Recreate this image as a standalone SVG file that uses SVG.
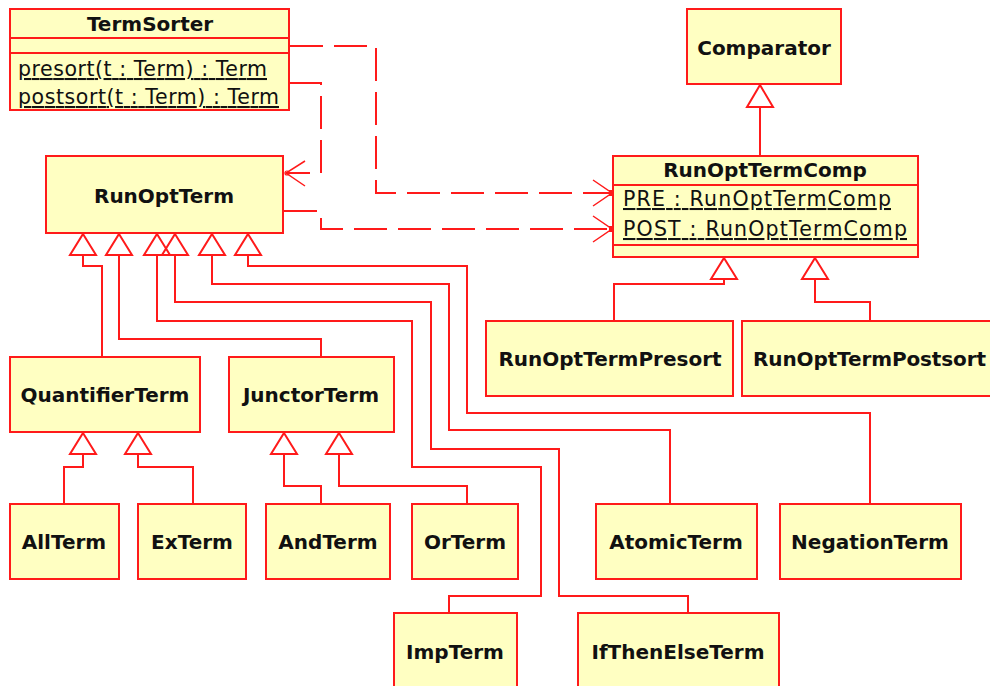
<svg xmlns="http://www.w3.org/2000/svg" width="990" height="686" viewBox="0 0 990 686">
  <style>
    .box { fill: #ffffc2; stroke: #ff1a1a; stroke-width: 2; }
    .sep { stroke: #ff1a1a; stroke-width: 2; }
    .name { font-family: "DejaVu Sans", "Liberation Sans", sans-serif; font-weight: bold; font-size: 20px; fill: #111; text-anchor: middle; }
    .member { font-family: "DejaVu Sans", "Liberation Sans", sans-serif; font-size: 20.5px; fill: #111; text-decoration: underline; }
    .wire { fill: none; stroke: #ff1a1a; stroke-width: 2; }
    .dash { fill: none; stroke: #ff1a1a; stroke-width: 2; stroke-dasharray: 33 11; }
    .tri { fill: none; stroke: #ff1a1a; stroke-width: 2; stroke-linejoin: miter; }
    .head { fill: none; stroke: #ff1a1a; stroke-width: 1.5; }
  </style>
  <rect width="990" height="686" fill="#ffffff"/>

  <!-- connectors -->
  <g id="connectors">
    <!-- dependencies -->
    <path class="dash" d="M290,46 H376 V193 H610"/>
    <path class="dash" d="M290,83 H321 V173 H287"/>
    <path class="dash" d="M284,211 H321 V229 H610"/>
    <path class="head" d="M305,161 L286,173 L305,186"/>
    <circle cx="287" cy="173" r="2" fill="none" stroke="#ff1a1a" stroke-width="1.2"/>
    <path class="head" d="M593,180 L612,193 L593,206"/>
    <rect x="609" y="190" width="5" height="6" fill="#ff1a1a"/>
    <path class="head" d="M593,216 L612,229 L593,242"/>
    <rect x="609" y="226" width="5" height="6" fill="#ff1a1a"/>

    <!-- RunOptTermComp extends Comparator -->
    <path class="tri" d="M760,85 L773,107 L747,107 Z"/>
    <path class="wire" d="M760,107 V156"/>

    <!-- RunOptTermPresort / RunOptTermPostsort extend RunOptTermComp -->
    <path class="tri" d="M724,258 L737,279 L711,279 Z"/>
    <path class="tri" d="M815,258 L828,279 L802,279 Z"/>
    <path class="wire" d="M724,279 V284 H614 V321"/>
    <path class="wire" d="M815,279 V302 H870 V321"/>

    <!-- subclasses of RunOptTerm -->
    <path class="tri" d="M83,234 L96,255 L70,255 Z"/>
    <path class="tri" d="M119,234 L132,255 L106,255 Z"/>
    <path class="tri" d="M157,234 L170,255 L144,255 Z"/>
    <path class="tri" d="M175,234 L188,255 L162,255 Z"/>
    <path class="tri" d="M212,234 L225,255 L199,255 Z"/>
    <path class="tri" d="M248,234 L261,255 L235,255 Z"/>
    <path class="wire" d="M83,255 V266 H102 V357"/>
    <path class="wire" d="M119,255 V339 H321 V357"/>
    <path class="wire" d="M157,255 V321 H412 V467 H541 V596 H449 V613"/>
    <path class="wire" d="M175,255 V302 H431 V449 H559 V596 H688 V613"/>
    <path class="wire" d="M212,255 V284 H449 V430 H670 V504"/>
    <path class="wire" d="M248,255 V266 H467 V413 H870 V504"/>

    <!-- subclasses of QuantifierTerm -->
    <path class="tri" d="M83,433 L96,454 L70,454 Z"/>
    <path class="tri" d="M138,433 L151,454 L125,454 Z"/>
    <path class="wire" d="M83,454 V467 H64 V504"/>
    <path class="wire" d="M138,454 V467 H193 V504"/>

    <!-- subclasses of JunctorTerm -->
    <path class="tri" d="M284,433 L297,454 L271,454 Z"/>
    <path class="tri" d="M339,433 L352,454 L326,454 Z"/>
    <path class="wire" d="M284,454 V486 H321 V504"/>
    <path class="wire" d="M339,454 V486 H467 V504"/>
  </g>

  <!-- classes -->
  <g id="TermSorter">
    <rect class="box" x="10" y="9" width="279" height="101"/>
    <line class="sep" x1="10" y1="38" x2="289" y2="38"/>
    <line class="sep" x1="10" y1="53" x2="289" y2="53"/>
    <text class="name" x="150" y="31">TermSorter</text>
    <text class="member" x="18" y="76" textLength="249" lengthAdjust="spacing">presort(t : Term) : Term</text>
    <text class="member" x="18" y="104" textLength="261" lengthAdjust="spacing">postsort(t : Term) : Term</text>
  </g>

  <g id="Comparator">
    <rect class="box" x="687" y="9" width="154" height="75"/>
    <text class="name" x="764" y="55">Comparator</text>
  </g>

  <g id="RunOptTerm">
    <rect class="box" x="46" y="156" width="237" height="77"/>
    <text class="name" x="164" y="203">RunOptTerm</text>
  </g>

  <g id="RunOptTermComp">
    <rect class="box" x="613" y="156" width="305" height="101"/>
    <line class="sep" x1="613" y1="185" x2="918" y2="185"/>
    <line class="sep" x1="613" y1="245" x2="918" y2="245"/>
    <text class="name" x="765" y="177">RunOptTermComp</text>
    <text class="member" x="623" y="206" textLength="268" lengthAdjust="spacing">PRE : RunOptTermComp</text>
    <text class="member" x="623" y="236" textLength="284" lengthAdjust="spacing">POST : RunOptTermComp</text>
  </g>

  <g id="RunOptTermPresort">
    <rect class="box" x="486" y="321" width="247" height="75"/>
    <text class="name" x="610" y="366">RunOptTermPresort</text>
  </g>

  <g id="RunOptTermPostsort">
    <rect class="box" x="742" y="321" width="260" height="75"/>
    <text class="name" x="753" y="366" style="text-anchor:start" textLength="233" lengthAdjust="spacing">RunOptTermPostsort</text>
  </g>

  <g id="QuantifierTerm">
    <rect class="box" x="10" y="357" width="190" height="75"/>
    <text class="name" x="105" y="402">QuantifierTerm</text>
  </g>

  <g id="JunctorTerm">
    <rect class="box" x="229" y="357" width="165" height="75"/>
    <text class="name" x="311" y="402">JunctorTerm</text>
  </g>

  <g id="AllTerm">
    <rect class="box" x="10" y="504" width="109" height="75"/>
    <text class="name" x="64" y="549">AllTerm</text>
  </g>

  <g id="ExTerm">
    <rect class="box" x="138" y="504" width="108" height="75"/>
    <text class="name" x="192" y="549">ExTerm</text>
  </g>

  <g id="AndTerm">
    <rect class="box" x="266" y="504" width="124" height="75"/>
    <text class="name" x="328" y="549">AndTerm</text>
  </g>

  <g id="OrTerm">
    <rect class="box" x="412" y="504" width="106" height="75"/>
    <text class="name" x="465" y="549">OrTerm</text>
  </g>

  <g id="AtomicTerm">
    <rect class="box" x="596" y="504" width="161" height="75"/>
    <text class="name" x="676" y="549">AtomicTerm</text>
  </g>

  <g id="NegationTerm">
    <rect class="box" x="780" y="504" width="181" height="75"/>
    <text class="name" x="870" y="549">NegationTerm</text>
  </g>

  <g id="ImpTerm">
    <rect class="box" x="394" y="613" width="123" height="90"/>
    <text class="name" x="455" y="659">ImpTerm</text>
  </g>

  <g id="IfThenElseTerm">
    <rect class="box" x="578" y="613" width="201" height="90"/>
    <text class="name" x="678" y="659">IfThenElseTerm</text>
  </g>
</svg>
